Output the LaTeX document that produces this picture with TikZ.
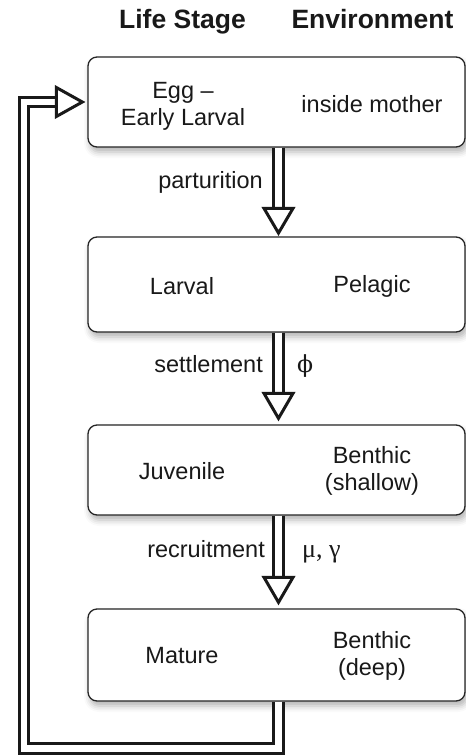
\documentclass[tikz,border=0pt]{standalone}
\usepackage{fontspec}
\setmainfont{Liberation Sans}
\newfontfamily\greekserif{Liberation Serif}
\newfontfamily\phifont{DejaVu Serif}
\usetikzlibrary{shadows.blur}
\begin{document}
\begin{tikzpicture}[x=1pt,y=-1pt,
  box/.style={draw=black!85, line width=1.3pt, fill=white, rounded corners=9pt,
    minimum width=377pt, inner sep=0pt,
    blur shadow={shadow xshift=2pt, shadow yshift=-5pt, shadow blur radius=6pt, shadow opacity=30}},
  txt/.style={font=\fontsize{23.5}{27}\selectfont, align=center, text=black!90, inner sep=0pt},
  head/.style={font=\bfseries\fontsize{26.5}{30}\selectfont, anchor=base, text=black!90, inner sep=0pt},
  lbl/.style={font=\fontsize{23.5}{27}\selectfont, fill=white, inner sep=2pt, text=black!90},
  dbl/.style={line width=3.2pt, double=white, double distance=6.5pt, line join=miter, draw=black!90},
  tri/.style={line width=3pt, fill=white, draw=black!90, line join=miter}
]
\useasboundingbox (0,0) rectangle (466,756);

% headers
\node[head] (h1) at (182.5,28) {Life Stage};
\node[head] (h2) at (372.5,28) {Environment};

% boxes
\node[box, minimum height=90pt] (b1) at (276.5,102) {};
\node[box, minimum height=95pt] (b2) at (276.5,284.5) {};
\node[box, minimum height=90pt] (b3) at (276.5,470) {};
\node[box, minimum height=92pt] (b4) at (276.5,655) {};

% box texts
\node[txt] (t1l) at (183,106) {Egg –\\Early Larval};
\node[txt] (t1r) at (372,104) {inside mother};
\node[txt] (t2l) at (182,286) {Larval};
\node[txt] (t2r) at (372,286) {Pelagic};
\node[txt] (t3l) at (182,471) {Juvenile};
\node[txt] (t3r) at (372,471) {Benthic\\(shallow)};
\node[txt] (t4l) at (182,656) {Mature};
\node[txt] (t4r) at (372,656) {Benthic\\(deep)};

\coordinate (col) at (278.5,0);

% arrow 1
\draw[dbl] (b1.south -| col) -- ([yshift=28pt]b2.north -| col);
\draw[tri] ([yshift=28pt]b2.north -| col) ++(-14.5,0) -- ++(29,0) -- ([yshift=3.3pt]b2.north -| col) -- cycle;
% arrow 2
\draw[dbl] (b2.south -| col) -- ([yshift=31pt]b3.north -| col);
\draw[tri] ([yshift=31pt]b3.north -| col) ++(-14.5,0) -- ++(29,0) -- ([yshift=6pt]b3.north -| col) -- cycle;
% arrow 3
\draw[dbl] (b3.south -| col) -- ([yshift=31pt]b4.north -| col);
\draw[tri] ([yshift=31pt]b4.north -| col) ++(-14.5,0) -- ++(29,0) -- ([yshift=6pt]b4.north -| col) -- cycle;

% feedback loop
\coordinate (hb) at ([xshift=-31pt]b1.west);
\coordinate (ht) at ([xshift=-5pt]b1.west);
\draw[dbl] (b4.south -| col) |- (24,748.5) |- (hb);
\draw[tri] (hb) ++(0,-14.5) -- ++(0,29) -- (ht) -- cycle;

% labels
\node[lbl, anchor=base east] (pl) at (265,188) {parturition};
\node[lbl, anchor=base east] (sl) at (265,372) {settlement};
\node[lbl, anchor=base east] (rl) at (267,557) {recruitment};
\node[lbl, anchor=base west] (phl) at (295,372) {\phifont ϕ};
\node[lbl, anchor=base west, font=\fontsize{26}{28}\selectfont] (mgl) at (300,557) {\greekserif μ, γ};
\end{tikzpicture}
\end{document}
